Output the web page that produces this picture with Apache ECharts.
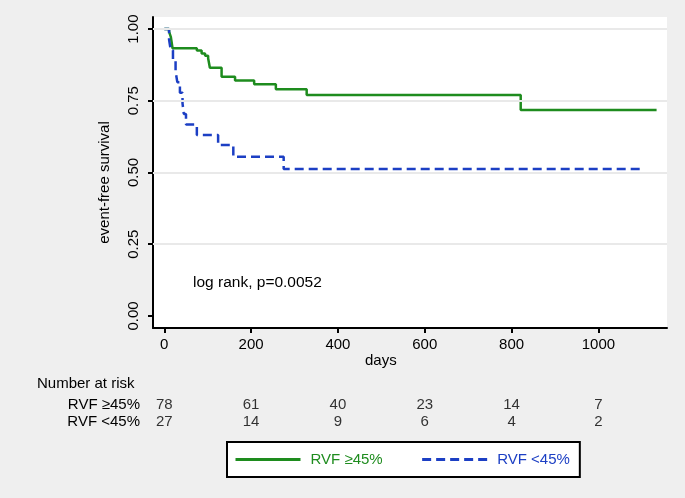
<!DOCTYPE html>
<html>
<head>
<meta charset="utf-8">
<script src="https://cdn.jsdelivr.net/npm/echarts@6/dist/echarts.min.js"></script>
<style>
html,body{margin:0;padding:0;background:#efefef;}
#c{width:685px;height:498px;}
</style>
</head>
<body>
<div id="c"></div>
<script>
// ---- data ----
var greenDays = [0, 11, 15, 19, 75, 86, 94, 101, 105, 132, 163, 207, 257, 328, 821, 1134];
var greenSurv = [1.0, 0.991, 0.973, 0.933, 0.925, 0.915, 0.907, 0.898, 0.865, 0.834, 0.821, 0.808, 0.790, 0.770, 0.718, 0.718];
var blueDays = [0, 11, 15, 20, 26, 30, 36, 42, 45, 50, 75, 124, 159, 275, 1100];
var blueSurv = [1.0, 0.963, 0.926, 0.889, 0.852, 0.815, 0.778, 0.741, 0.704, 0.667, 0.631, 0.596, 0.555, 0.512, 0.512];
var xTicks = [0, 200, 400, 600, 800, 1000];
var yTicks = [0, 0.25, 0.5, 0.75, 1];
var gridValues = [0.25, 0.5, 0.75, 1];
var riskDays = [0, 200, 400, 600, 800, 1000];
var riskHigh = [78, 61, 40, 23, 14, 7];
var riskLow = [27, 14, 9, 6, 4, 2];
var groupNames = ['RVF \u226545%', 'RVF <45%'];

var GREEN = '#1e8c1e', BLUE = '#1c3fc4';
var FONT = 'Liberation Sans, Arial, Helvetica, sans-serif';

function pairs(xs, ys) { return xs.map(function (x, i) { return [x, ys[i]]; }); }
function riskPairs(ys, row) { return riskDays.map(function (d, i) { return [d, row, ys[i]]; }); }

var chart = echarts.init(document.getElementById('c'), null, {renderer: 'canvas'});
var labelStyle = {color: '#000', fontFamily: FONT, fontSize: 15};

chart.setOption({
  backgroundColor: '#efefef',
  animation: false,
  textStyle: {fontFamily: FONT},
  grid: [
    {left: 153, top: 17, width: 514, height: 311, show: true, backgroundColor: '#ffffff', borderWidth: 0},
    {left: 153, top: 396, width: 514, height: 34, show: false}
  ],
  xAxis: [
    {
      type: 'value', gridIndex: 0, min: -26, max: 1158,
      axisLine: {show: true, onZero: false, lineStyle: {color: '#000', width: 2}},
      axisTick: {show: true, length: 5, customValues: xTicks, lineStyle: {color: '#000', width: 2}},
      axisLabel: Object.assign({customValues: xTicks, margin: 9,
        formatter: function (v) { return String(v); }}, labelStyle),
      splitLine: {show: false}
    },
    {
      type: 'value', gridIndex: 1, min: -26, max: 1158, show: false
    }
  ],
  yAxis: [
    {
      type: 'value', gridIndex: 0, min: -0.042, max: 1.042,
      name: 'event-free survival', nameLocation: 'middle', nameGap: 41, nameRotate: 90,
      nameTextStyle: {color: '#000', fontFamily: FONT, fontSize: 15, padding: [0, 20, 0, 0]},
      axisLine: {show: true, onZero: false, lineStyle: {color: '#000', width: 2}},
      axisTick: {show: true, length: 5, customValues: yTicks, lineStyle: {color: '#000', width: 2}},
      axisLabel: Object.assign({customValues: yTicks, rotate: 90, margin: 12,
        formatter: function (v) { return v.toFixed(2); }}, labelStyle),
      splitLine: {show: false}
    },
    {
      type: 'category', gridIndex: 1, data: [groupNames[1], groupNames[0]],
      axisLine: {show: false}, axisTick: {show: false},
      axisLabel: Object.assign({margin: 13, interval: 0, hideOverlap: false}, labelStyle)
    }
  ],
  legend: {
    left: 227, top: 442, width: 361, height: 35,
    orient: 'horizontal',
    backgroundColor: '#ffffff', borderColor: '#000', borderWidth: 2,
    padding: [10, 10, 10, 7],
    itemWidth: 65, itemHeight: 14, itemGap: 38,
    itemStyle: {color: 'rgba(0,0,0,0)', borderWidth: 0, opacity: 0},
    lineStyle: {width: 3},
    data: [
      {name: groupNames[0], textStyle: {color: GREEN}},
      {name: groupNames[1], textStyle: {color: BLUE}}
    ],
    textStyle: {fontFamily: FONT, fontSize: 15, padding: [0, 0, 0, 5]},
    selectedMode: false
  },
  graphic: [
    {type: 'text', left: 193, top: 275, style: {text: 'log rank, p=0.0052', fill: '#000', font: '15.5px ' + FONT}},
    {type: 'text', left: 365, top: 353, style: {text: 'days', fill: '#000', font: '15px ' + FONT}},
    {type: 'text', left: 37, top: 376, style: {text: 'Number at risk', fill: '#000', font: '15px ' + FONT}}
  ],
  series: [
    {
      name: 'grid', type: 'line', xAxisIndex: 0, yAxisIndex: 0, data: [], z: 1, silent: true,
      markLine: {
        silent: true, symbol: ['none', 'none'], label: {show: false},
        lineStyle: {color: '#e9e9e9', width: 2, type: 'solid'},
        data: gridValues.map(function (v) { return {yAxis: v}; })
      }
    },
    {
      name: groupNames[0], type: 'line', step: 'end', xAxisIndex: 0, yAxisIndex: 0,
      data: pairs(greenDays, greenSurv), symbol: 'none', z: 3,
      lineStyle: {color: GREEN, width: 2.5}, itemStyle: {color: GREEN}
    },
    {
      name: groupNames[1], type: 'line', step: 'end', xAxisIndex: 0, yAxisIndex: 0,
      data: pairs(blueDays, blueSurv), symbol: 'none', z: 3,
      lineStyle: {color: BLUE, width: 2.5, type: [9, 5]}, itemStyle: {color: BLUE}
    },
    {
      name: 'riskHigh', type: 'scatter', xAxisIndex: 1, yAxisIndex: 1, symbolSize: 0,
      data: riskPairs(riskHigh, groupNames[0]),
      encode: {x: 0, y: 1},
      label: Object.assign({show: true, position: 'inside', formatter: function (p) { return p.value[2]; }}, labelStyle)
    },
    {
      name: 'riskLow', type: 'scatter', xAxisIndex: 1, yAxisIndex: 1, symbolSize: 0,
      data: riskPairs(riskLow, groupNames[1]),
      encode: {x: 0, y: 1},
      label: Object.assign({show: true, position: 'inside', formatter: function (p) { return p.value[2]; }}, labelStyle)
    }
  ]
});
</script>
</body>
</html>
